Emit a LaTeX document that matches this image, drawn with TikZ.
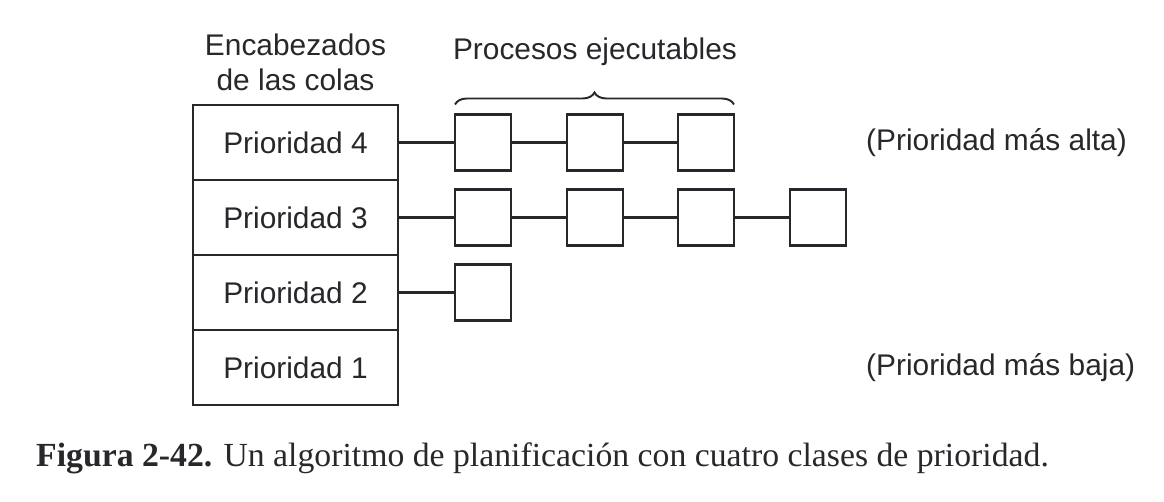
\documentclass[tikz,border=0pt]{standalone}
\usepackage{fontspec}
\setmainfont{Liberation Serif}
\setsansfont{Liberation Sans}
\usetikzlibrary{positioning,decorations.pathreplacing}

\definecolor{ink}{RGB}{40,40,44}

\tikzset{
  header/.style={draw=ink, line width=1.6pt, outer sep=0pt, minimum width=4.1cm, minimum height=1.5cm, inner sep=0pt, font=\sffamily\fontsize{17}{18}\selectfont, text=ink},
  proc/.style={draw=ink, line width=1.6pt, outer sep=0pt, minimum size=1.12cm, inner sep=0pt},
  label/.style={font=\sffamily\fontsize{17}{20}\selectfont, text=ink}
}

\begin{document}
\begin{tikzpicture}[x=0.02cm, y=-0.02cm]
 \useasboundingbox (0,0) rectangle (1164,502);

 % queue headers
 \node (p4) [header] at (295.5,142.5) {Prioridad 4};
 \node (p3) [header, below=0pt of p4] {Prioridad 3};
 \node (p2) [header, below=0pt of p3] {Prioridad 2};
 \node (p1) [header, below=0pt of p2] {Prioridad 1};

 % runnable processes
 \node (a1) [proc] at (p4 -| 483,0) {};
 \node (a2) [proc] at (p4 -| 595,0) {};
 \node (a3) [proc] at (p4 -| 706,0) {};
 \node (b1) [proc] at (p3 -| 483,0) {};
 \node (b2) [proc] at (p3 -| 595,0) {};
 \node (b3) [proc] at (p3 -| 706,0) {};
 \node (b4) [proc] at (p3 -| 818,0) {};
 \node (c1) [proc] at (p2 -| 483,0) {};

 \draw[ink, line width=1.6pt] (p4) -- (a1) -- (a2) -- (a3);
 \draw[ink, line width=1.6pt] (p3) -- (b1) -- (b2) -- (b3) -- (b4);
 \draw[ink, line width=1.6pt] (p2) -- (c1);

 % labels
 \node (head) [label, align=center] at (295.5,62) {Encabezados\\de las colas};
 \node (procs) [label] at (595,52) {Procesos ejecutables};
 \draw[ink, line width=1.1pt, decorate, decoration={brace, amplitude=0.24cm}]
   ([yshift=0.2cm]a1.north west) -- ([yshift=0.2cm]a3.north east);
 \node (high) [label, anchor=west] at (p4 -| 860,0) {(Prioridad más alta)};
 \node (low) [label, anchor=west] at (p1 -| 860,0) {(Prioridad más baja)};

 \node (caption) [anchor=west, text=ink, font=\fontsize{19.2}{22}\selectfont] at (30,458)
   {\textbf{Figura 2-42.} Un algoritmo de planificación con cuatro clases de prioridad.};
\end{tikzpicture}
\end{document}
